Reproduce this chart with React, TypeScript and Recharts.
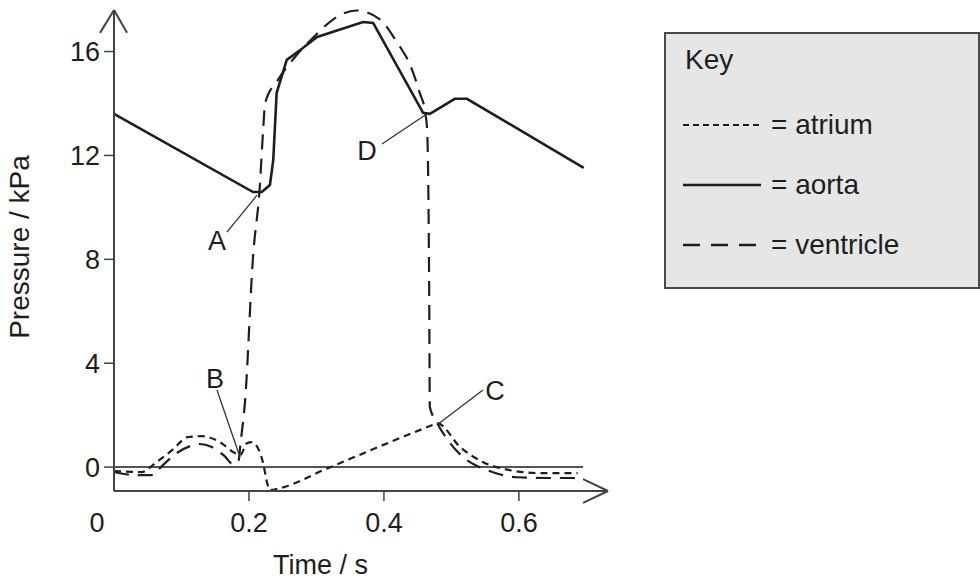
import React from 'react';
import { LineChart, Line, XAxis, YAxis, ReferenceLine, ReferenceDot } from 'recharts';

// time (s) and pressure (kPa)
const atriumTime = [0, 0.041, 0.061, 0.086, 0.11, 0.13, 0.157, 0.179, 0.187, 0.197, 0.204, 0.216, 0.221, 0.227, 0.231, 0.246, 0.317, 0.472, 0.479, 0.513, 0.547, 0.587, 0.631, 0.687];
const atriumPressure = [-0.15, -0.19, 0.15, 0.65, 1.16, 1.19, 0.96, 0.54, 0.46, 0.92, 0.96, 0.58, 0.15, -0.62, -0.89, -0.81, -0.04, 1.62, 1.69, 0.77, 0.19, -0.12, -0.23, -0.23];

const aortaTime = [0, 0.206, 0.219, 0.231, 0.236, 0.241, 0.256, 0.276, 0.301, 0.369, 0.384, 0.458, 0.468, 0.505, 0.523, 0.696];
const aortaPressure = [13.6, 10.59, 10.59, 10.86, 11.83, 14.41, 15.68, 16.06, 16.56, 17.14, 17.1, 13.64, 13.6, 14.18, 14.18, 11.52];

const ventricleTime = [0, 0.034, 0.058, 0.068, 0.093, 0.113, 0.127, 0.145, 0.164, 0.176, 0.184, 0.188, 0.194, 0.206, 0.216, 0.221, 0.224, 0.243, 0.267, 0.296, 0.326, 0.359, 0.393, 0.419, 0.44, 0.453, 0.461, 0.464, 0.467, 0.468, 0.479, 0.498, 0.517, 0.553, 0.597, 0.646, 0.687];
const ventriclePressure = [-0.19, -0.31, -0.31, -0.04, 0.54, 0.81, 0.89, 0.77, 0.42, 0.12, 0.19, 1.04, 2.47, 8.09, 10.79, 12.98, 14.02, 14.91, 15.75, 16.56, 17.26, 17.58, 17.26, 16.37, 15.41, 14.41, 13.68, 12.98, 6.93, 2.31, 1.69, 0.92, 0.39, -0.12, -0.39, -0.42, -0.42];

const xTicks = [0, 0.2, 0.4, 0.6];
const yTicks = [0, 4, 8, 12, 16];

// point labels: [letter, label t, label p, line from t, p, line to t, p]
const markers: [string, number, number, number, number, number, number][] = [
  ['A', 0.1526, 8.74, 0.1674, 9.05, 0.2119, 10.47],
  ['B', 0.1496, 3.43, 0.1526, 2.97, 0.1867, 0.39],
  ['C', 0.5644, 2.97, 0.5467, 2.97, 0.4785, 1.62],
  ['D', 0.3748, 12.2, 0.397, 12.44, 0.4607, 13.55],
];

const toRows = (t: number[], p: number[]) => t.map((x, i) => ({ t: x, p: p[i] }));
const atrium = toRows(atriumTime, atriumPressure);
const aorta = toRows(aortaTime, aortaPressure);
const ventricle = toRows(ventricleTime, ventriclePressure);

const font = '"Liberation Sans", Arial, sans-serif';
const ink = '#1e1e1e';

const XTick = (props: any) => {
  const { x, y, payload } = props;
  const v = payload.value;
  return (
    <g>
      {v !== 0 && <line x1={x} x2={x} y1={y - 12} y2={y - 2} stroke="#444" strokeWidth={1.5} />}
      <text x={v === 0 ? x - 17 : x} y={y + 29} textAnchor="middle" fill={ink} fontSize={27} fontFamily={font}>
        {v === 0 ? '0' : v.toFixed(1)}
      </text>
    </g>
  );
};

const App = () => {
  return (
    <div style={{ position: 'absolute', left: 0, top: 0, width: 980, height: 582, background: '#fff', fontFamily: font }}>
      <LineChart width={980} height={582} margin={{ top: 10, right: 372, bottom: 31, left: 54 }}>
        <XAxis
          type="number"
          dataKey="t"
          domain={[0, 0.732]}
          ticks={xTicks}
          height={60}
          tickSize={10}
          tickMargin={2}
          tickLine={false}
          tick={(p: any) => <XTick {...p} />}
          axisLine={{ stroke: '#444', strokeWidth: 2 }}
        />
        <YAxis
          type="number"
          dataKey="p"
          domain={[-0.92, 17.6]}
          ticks={yTicks}
          width={60}
          tickSize={10}
          tickMargin={4}
          axisLine={{ stroke: '#444', strokeWidth: 2 }}
          tickLine={{ stroke: '#444', strokeWidth: 1.5 }}
          tick={{ fill: ink, fontSize: 27, fontFamily: font }}
        />
        {/* zero line and axis arrows */}
        <ReferenceLine segment={[{ x: 0, y: 0 }, { x: 0.695, y: 0 }]} stroke="#555" strokeWidth={2} ifOverflow="visible" />
        <ReferenceLine segment={[{ x: -0.0207, y: 16.72 }, { x: 0, y: 17.6 }]} stroke="#444" strokeWidth={2} ifOverflow="visible" />
        <ReferenceLine segment={[{ x: 0.0193, y: 16.72 }, { x: 0, y: 17.6 }]} stroke="#444" strokeWidth={2} ifOverflow="visible" />
        <ReferenceLine segment={[{ x: 0.695, y: -0.46 }, { x: 0.732, y: -0.92 }]} stroke="#444" strokeWidth={2} ifOverflow="visible" />
        <ReferenceLine segment={[{ x: 0.695, y: -1.38 }, { x: 0.732, y: -0.92 }]} stroke="#444" strokeWidth={2} ifOverflow="visible" />

        <Line data={atrium} dataKey="p" type="monotone" stroke={ink} strokeWidth={2.2} strokeDasharray="7 5" dot={false} activeDot={false} isAnimationActive={false} />
        <Line data={ventricle} dataKey="p" type="monotone" stroke={ink} strokeWidth={2.2} strokeDasharray="15 9" dot={false} activeDot={false} isAnimationActive={false} />
        <Line data={aorta} dataKey="p" type="linear" stroke={ink} strokeWidth={2.6} dot={false} activeDot={false} isAnimationActive={false} />

        {markers.map((m) => (
          <ReferenceLine
            key={'l' + m[0]}
            segment={[{ x: m[3], y: m[4] }, { x: m[5], y: m[6] }]}
            stroke="#333"
            strokeWidth={1.3}
            ifOverflow="visible"
          />
        ))}
        {markers.map((m) => (
          <ReferenceDot
            key={'d' + m[0]}
            x={m[1]}
            y={m[2]}
            r={0}
            fill="none"
            stroke="none"
            ifOverflow="visible"
            label={{ value: m[0], position: 'center', fill: ink, fontSize: 27, fontFamily: font }}
          />
        ))}
      </LineChart>

      {/* axis titles */}
      <div style={{ position: 'absolute', left: 273, top: 550, fontSize: 27, color: ink, whiteSpace: 'nowrap' }}>Time / s</div>
      <div
        style={{
          position: 'absolute',
          left: 20,
          top: 247,
          fontSize: 28,
          color: ink,
          whiteSpace: 'nowrap',
          transform: 'translate(-50%, -50%) rotate(-90deg)',
        }}
      >
        Pressure / kPa
      </div>

      {/* key */}
      <div
        style={{
          position: 'absolute',
          left: 664,
          top: 32,
          width: 312,
          height: 253,
          background: '#e6e6e6',
          border: '2px solid #4a4a4a',
          color: ink,
          fontSize: 28,
        }}
      >
        <div style={{ position: 'absolute', left: 19, top: 10 }}>Key</div>
        {[
          ['= atrium', '6 4', 2, 75],
          ['= aorta', '', 2.4, 135],
          ['= ventricle', '17 11', 2.4, 195],
        ].map(([name, dash, w, top]) => (
          <div key={name as string} style={{ position: 'absolute', left: 17, top: top as number, display: 'flex', alignItems: 'center', whiteSpace: 'nowrap' }}>
            <svg width={78} height={10} style={{ marginRight: 10 }}>
              <line x1={0} x2={78} y1={5} y2={5} stroke={ink} strokeWidth={w as number} strokeDasharray={(dash as string) || undefined} />
            </svg>
            <span>{name}</span>
          </div>
        ))}
      </div>
    </div>
  );
};

export default App;
